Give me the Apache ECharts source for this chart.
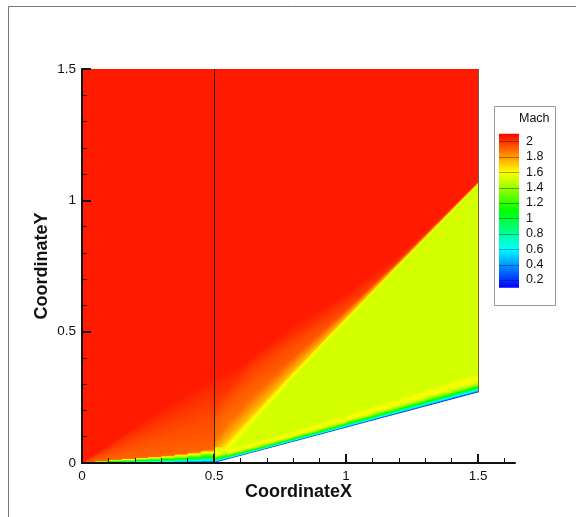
<!DOCTYPE html>
<html>
<head>
<meta charset="utf-8">
<script src="https://cdn.jsdelivr.net/npm/echarts@6/dist/echarts.min.js"></script>
<style>
  html, body { margin: 0; padding: 0; background: #fff; }
  #chart { width: 576px; height: 517px; }
</style>
</head>
<body>
<div id="chart"></div>
<script>
// ---- Contour legend ----
const legendLevels = [0.2, 0.4, 0.6, 0.8, 1, 1.2, 1.4, 1.6, 1.8, 2];
const machRange = [0.1, 2.1];

// ---- Axes ----
const xTickValues = [0, 0.5, 1, 1.5];
const xAxisMax = 1.64;
const yAxisMax = 1.5;

// ---- Geometry: flat plate followed by a 15 degree ramp ----
const wallX = [0, 0.5, 1.5];
const wallY = [0, 0, 0.268];
const domainTopY = 1.5;
const blockLineX = [0.5, 1.5];
const blockLineY0 = [0, 0.268];
const blockLineY1 = [1.5, 1.5];

// ---- Flow field ----
const freestreamMach = 2.05;
const postShockMach = 1.515;

// leading-edge compression fan: rays from the plate tip and Mach along each ray
const fanSlope = [0.66, 0.55, 0.44, 0.33, 0.22, 0.11, 0.0];
const fanMach  = [2.05, 2.01, 1.98, 1.95, 1.93, 1.91, 1.90];

// ramp shock trace, smeared thickness ahead of / behind it, Mach on either side
const shockX = [0.5, 0.55, 0.65, 0.8, 1.0, 1.2, 1.5];
const shockY = [0.04, 0.09, 0.194, 0.35, 0.555, 0.76, 1.066];
const shockSmearUp = [0.16, 0.19, 0.22, 0.18, 0.09, 0.035, 0.015];
const shockSmearDown = [0.06, 0.06, 0.05, 0.035, 0.025, 0.02, 0.015];
const shockUpMach = [1.88, 1.88, 1.90, 1.92, 1.95, 2.0, 2.05];
const shockDownMach = [1.62, 1.60, 1.58, 1.56, 1.54, 1.515, 1.515];

// boundary layer on the flat plate
const plateX = [0, 0.05, 0.1, 0.15, 0.2, 0.25, 0.3, 0.35, 0.4, 0.45, 0.5];
const plateThick = [0, 0.007, 0.011, 0.015, 0.019, 0.023, 0.027, 0.032, 0.038, 0.046, 0.056];
const plateProfileT = [0, 0.1, 0.25, 0.45, 0.65, 0.85, 1];
const plateProfileM = [0.12, 0.35, 0.75, 1.1, 1.4, 1.7, 1.9];

// boundary layer on the ramp
const rampX = [0.5, 0.55, 0.6, 0.7, 0.8, 0.9, 1.0, 1.1, 1.2, 1.3, 1.4, 1.5];
const rampThick = [0.06, 0.045, 0.04, 0.04, 0.042, 0.045, 0.05, 0.055, 0.06, 0.065, 0.07, 0.075];
const rampProfileT = [0, 0.05, 0.12, 0.22, 0.33, 0.45, 0.6, 0.8, 1];
const rampProfileM = [0.12, 0.3, 0.6, 0.95, 1.25, 1.45, 1.58, 1.58, 1.515];

// ---- Colour scale (small rainbow) ----
const RAMP_RGB = [[0, 0, 255], [0, 255, 255], [0, 255, 0], [255, 255, 0], [255, 0, 0]];
function machColor(m, alpha) {
  const f = Math.min(1, Math.max(0, (m - machRange[0]) / (machRange[1] - machRange[0])));
  const s = f * (RAMP_RGB.length - 1);
  const k = Math.min(RAMP_RGB.length - 2, Math.floor(s));
  const t = s - k;
  const a = RAMP_RGB[k], b = RAMP_RGB[k + 1];
  const c = a.map((v, j) => Math.round(v + (b[j] - v) * t));
  const al = alpha === undefined ? 1 : alpha;
  return 'rgba(' + c.join(',') + ',' + al.toFixed(3) + ')';
}

// ---- small vector helpers (pixel space) ----
const sub = (a, b) => [a[0] - b[0], a[1] - b[1]];
const add = (a, b) => [a[0] + b[0], a[1] + b[1]];
const mul = (a, s) => [a[0] * s, a[1] * s];
const dot = (a, b) => a[0] * b[0] + a[1] * b[1];
const unit = a => { const l = Math.hypot(a[0], a[1]); return [a[0] / l, a[1] / l]; };
const zip = (a, b) => a.map((v, i) => [v, b[i]]);

function wallYAt(x) {
  for (let k = 0; k < wallX.length - 1; k++) {
    if (x <= wallX[k + 1]) {
      return wallY[k] + (wallY[k + 1] - wallY[k]) * (x - wallX[k]) / (wallX[k + 1] - wallX[k]);
    }
  }
  return wallY[wallY.length - 1];
}

// linear gradient between two pixel points, stops given as [offset, Mach, alpha?]
function machGradient(p0, p1, stops) {
  const cs = [];
  for (let k = 0; k < stops.length - 1; k++) {
    const [t0, m0, a0 = 1] = stops[k], [t1, m1, a1 = 1] = stops[k + 1];
    for (let j = 0; j < 6; j++) {
      const f = j / 6;
      cs.push({ offset: t0 + (t1 - t0) * f, color: machColor(m0 + (m1 - m0) * f, a0 + (a1 - a0) * f) });
    }
  }
  const [tl, ml, al = 1] = stops[stops.length - 1];
  cs.push({ offset: tl, color: machColor(ml, al) });
  return new echarts.graphic.LinearGradient(p0[0], p0[1], p1[0], p1[1], cs, true);
}
function poly(points, fill, stroke) {
  return { type: 'polygon', shape: { points }, style: { fill, stroke: stroke === undefined ? fill : stroke, lineWidth: 0.6 } };
}

const fieldSeries = (name, data, renderItem) => ({
  type: 'custom', name, xAxisIndex: 0, yAxisIndex: 0, clip: true, silent: true, z: 1,
  data, renderItem
});

const series = [
  // undisturbed free stream over the whole block
  fieldSeries('freestream', [[0, 0]], (p, api) => {
    const pts = wallX.map((x, i) => api.coord([x, wallY[i]]));
    pts.push(api.coord([wallX[wallX.length - 1], domainTopY]), api.coord([wallX[0], domainTopY]));
    return poly(pts, machColor(freestreamMach));
  }),
  // leading-edge compression fan (each wedge overlaps the one above it slightly)
  fieldSeries('fan', fanSlope.slice(0, -1).map(s => [wallX[2], s * wallX[2]]), (p, api) => {
    const i = p.dataIndex;
    const xr = wallX[wallX.length - 1];
    const sTop = i === 0 ? fanSlope[0] : fanSlope[i] + 0.01;
    const O = api.coord([0, 0]);
    const A = api.coord([xr, sTop * xr]);
    const B = api.coord([xr, fanSlope[i + 1] * xr]);
    const P = api.coord([0.45, fanSlope[i] * 0.45]);
    const u = unit(sub(api.coord([1, fanSlope[i + 1]]), O));
    const F = add(O, mul(u, dot(sub(P, O), u)));
    return poly([O, A, B], machGradient(P, F, [[0, fanMach[i]], [1, fanMach[i + 1]]]), 'none');
  }),
  // region behind the ramp shock
  fieldSeries('postShock', [[1.5, 0.268]], (p, api) => {
    const pts = shockX.map((x, i) => api.coord([x, shockY[i]]));
    pts.push(api.coord([wallX[2], wallY[2]]), api.coord([wallX[1], wallY[1]]));
    return poly(pts, machColor(postShockMach));
  }),
  // smeared shock front, drawn as narrow pixel-aligned strips along each traced segment
  fieldSeries('shock', zip(shockX, shockY).slice(0, -1), (p, api) => {
    const k = p.dataIndex;
    const at = (arr, f) => arr[k] + (arr[k + 1] - arr[k]) * f;
    const py = api.coord([0, 0])[1] - api.coord([0, 1])[1];
    const A = api.coord([shockX[k], shockY[k]]), B = api.coord([shockX[k + 1], shockY[k + 1]]);
    const d = unit(sub(B, A));
    const n = [d[1], -d[0]];
    const xa = Math.round(A[0]), xb = Math.round(B[0]);
    const STEP = 2;
    const children = [];
    for (let px = xa; px < xb; px += STEP) {
      const px1 = Math.min(xb, px + STEP);
      const f0 = (px - A[0]) / (B[0] - A[0]), f1 = (px1 - A[0]) / (B[0] - A[0]);
      const fm = Math.min(1, Math.max(0, (f0 + f1) / 2));
      const y0 = A[1] + (B[1] - A[1]) * f0, y1 = A[1] + (B[1] - A[1]) * f1;
      const u = at(shockSmearUp, fm) * py, dd = at(shockSmearDown, fm) * py;
      const pts = [[px, y0 - u], [px1, y1 - u], [px1, y1 + dd], [px, y0 + dd]];
      const M = [(px + px1) / 2, (y0 + y1) / 2];
      const wu = u * Math.abs(n[1]), wd = dd * Math.abs(n[1]);
      const tc = wu / (wu + wd);
      const up = at(shockUpMach, fm), dn = at(shockDownMach, fm);
      const mid = (up + dn) / 2;
      const g = machGradient(add(M, mul(n, wu)), sub(M, mul(n, wd)), [
        [0, up, 0], [tc * 0.7, up, 1], [tc, mid, 1],
        [tc + (1 - tc) * 0.5, dn, 1], [1, postShockMach, 1]
      ]);
      children.push(poly(pts, g, 'none'));
    }
    return { type: 'group', children };
  }),
  // plate boundary layer
  fieldSeries('plateBL', zip(plateX, plateThick).slice(0, -1), (p, api) => {
    const k = p.dataIndex;
    const x0 = plateX[k], x1 = plateX[k + 1];
    const x1e = x1 + 0.002;
    const pts = [api.coord([x0, 0]), api.coord([x1e, 0]), api.coord([x1e, plateThick[k + 1]]), api.coord([x0, plateThick[k]])];
    const xm = (x0 + x1) / 2, hm = (plateThick[k] + plateThick[k + 1]) / 2;
    const g = machGradient(api.coord([xm, 0]), api.coord([xm, hm]), zip(plateProfileT, plateProfileM));
    return poly(pts, g, 'none');
  }),
  // ramp boundary layer
  fieldSeries('rampBL', zip(rampX, rampThick).slice(0, -1), (p, api) => {
    const k = p.dataIndex;
    const x0 = rampX[k], x1 = rampX[k + 1];
    const x1e = Math.min(wallX[2], x1 + 0.002);
    const w0 = wallYAt(x0), w1 = wallYAt(x1e);
    const pts = [api.coord([x0, w0]), api.coord([x1e, w1]), api.coord([x1e, w1 + rampThick[k + 1]]), api.coord([x0, w0 + rampThick[k]])];
    const xm = (x0 + x1) / 2, wm = wallYAt(xm), hm = (rampThick[k] + rampThick[k + 1]) / 2;
    const W = api.coord([xm, wm]), T = api.coord([xm, wm + hm]);
    const dwall = unit(sub(api.coord([wallX[2], wallY[2]]), api.coord([wallX[1], wallY[1]])));
    const n = [dwall[1], -dwall[0]];
    const G1 = add(W, mul(n, dot(sub(T, W), n)));
    return poly(pts, machGradient(W, G1, zip(rampProfileT, rampProfileM)), 'none');
  }),
  // solid ramp body
  fieldSeries('body', [[1.5, 0]], (p, api) => {
    const pts = [api.coord([wallX[1], wallY[1]]), api.coord([wallX[2], wallY[2]]),
      api.coord([wallX[2] + 0.01, wallY[2]]), api.coord([wallX[2] + 0.01, 0])];
    return { type: 'polygon', shape: { points: pts }, style: { fill: '#fff' } };
  }),
  // block interface and outflow edge
  fieldSeries('blockLines', zip(blockLineX, blockLineY0), (p, api) => {
    const k = p.dataIndex;
    const a = api.coord([blockLineX[k], blockLineY0[k]]);
    const b = api.coord([blockLineX[k], blockLineY1[k]]);
    const alpha = k === 0 ? 0.85 : 0.55;
    return {
      type: 'line', shape: { x1: Math.round(a[0]) + 0.5, y1: a[1], x2: Math.round(b[0]) + 0.5, y2: b[1] },
      style: { stroke: 'rgba(20,20,20,' + alpha + ')', lineWidth: 1 }
    };
  }),
  // colour bar of the contour legend
  {
    type: 'custom', xAxisIndex: 2, yAxisIndex: 2, silent: true,
    data: [[0, machRange[0]]],
    renderItem: (p, api) => {
      const top = api.coord([0, machRange[1]]), bot = api.coord([1, machRange[0]]);
      const g = machGradient([top[0], top[1]], [top[0], bot[1]],
        [[0, 2.1], [0.25, 1.6], [0.5, 1.1], [0.75, 0.6], [1, 0.1]]);
      const children = [{
        type: 'rect', shape: { x: top[0], y: top[1], width: bot[0] - top[0], height: bot[1] - top[1] },
        style: { fill: g }
      }];
      legendLevels.forEach(L => {
        const a = api.coord([0, L]), b = api.coord([1, L]);
        children.push({ type: 'line', shape: { x1: a[0], y1: Math.round(a[1]) + 0.5, x2: b[0], y2: Math.round(b[1]) + 0.5 },
          style: { stroke: 'rgba(0,0,0,0.35)', lineWidth: 1 } });
      });
      return { type: 'group', children };
    }
  }
];

const FONT = '"Liberation Sans", Arial, Helvetica, sans-serif';
const AX = '#111';

const option = {
  animation: false,
  backgroundColor: '#fff',
  grid: [
    { left: 82, top: 69, width: 433, height: 394 },
    { left: 82, top: 69, width: 422.4, height: 394 },
    { left: 499, top: 126, width: 20, height: 169.4 }
  ],
  xAxis: [
    {
      gridIndex: 0, type: 'value', min: 0, max: xAxisMax, interval: 0.5, z: 10,
      name: 'CoordinateX', nameLocation: 'middle', nameGap: 20, nameMoveOverlap: false,
      nameTextStyle: { fontFamily: FONT, fontWeight: 'bold', fontSize: 18, color: AX },
      axisLine: { lineStyle: { color: AX, width: 2 } },
      axisTick: { inside: true, length: 9, customValues: xTickValues, lineStyle: { color: AX, width: 2 } },
      axisLabel: { customValues: xTickValues, margin: 6, fontFamily: FONT, fontSize: 13.5, color: AX },
      splitLine: { show: false }
    },
    {
      gridIndex: 1, type: 'value', min: 0, max: 1.6, interval: 0.1, z: 10,
      axisLine: { show: false },
      axisTick: { inside: true, length: 5, lineStyle: { color: AX, width: 1 } },
      axisLabel: { show: false }, splitLine: { show: false }
    },
    { gridIndex: 2, type: 'value', min: 0, max: 1, show: false }
  ],
  yAxis: [
    {
      gridIndex: 0, type: 'value', min: 0, max: yAxisMax, interval: 0.5, z: 10,
      name: 'CoordinateY', nameLocation: 'middle', nameGap: 31, nameRotate: 90, nameMoveOverlap: false,
      nameTextStyle: { fontFamily: FONT, fontWeight: 'bold', fontSize: 18, color: AX },
      axisLine: { lineStyle: { color: AX, width: 2 } },
      axisTick: { inside: true, length: 9, lineStyle: { color: AX, width: 2 } },
      minorTick: { show: true, splitNumber: 5, length: 5, lineStyle: { color: AX, width: 1 } },
      axisLabel: { margin: 6, fontFamily: FONT, fontSize: 13.5, color: AX },
      splitLine: { show: false }
    },
    { gridIndex: 1, type: 'value', min: 0, max: yAxisMax, show: false },
    {
      gridIndex: 2, type: 'value', min: 0, max: 2.2, interval: 0.2, position: 'right',
      axisLine: { show: false }, axisTick: { show: false }, splitLine: { show: false },
      axisLabel: {
        margin: 7, fontFamily: FONT, fontSize: 12.5, color: AX,
        formatter: v => (v < machRange[0] || v > machRange[1]) ? '' : String(Math.round(v * 10) / 10)
      }
    }
  ],
  graphic: [
    { type: 'line', shape: { x1: 8.5, y1: 6.5, x2: 576, y2: 6.5 }, style: { stroke: '#777', lineWidth: 1 } },
    { type: 'line', shape: { x1: 8.5, y1: 6.5, x2: 8.5, y2: 517 }, style: { stroke: '#777', lineWidth: 1 } },
    { type: 'rect', shape: { x: 494.5, y: 106.5, width: 61, height: 199 }, style: { fill: '#fff', stroke: '#999', lineWidth: 1 } },
    { type: 'text', x: 519, y: 119, style: { text: 'Mach', font: '12.5px ' + FONT, fill: AX, verticalAlign: 'middle' } }
  ],
  series
};

const chart = echarts.init(document.getElementById('chart'), null, { renderer: 'canvas' });
chart.setOption(option);
</script>
</body>
</html>
